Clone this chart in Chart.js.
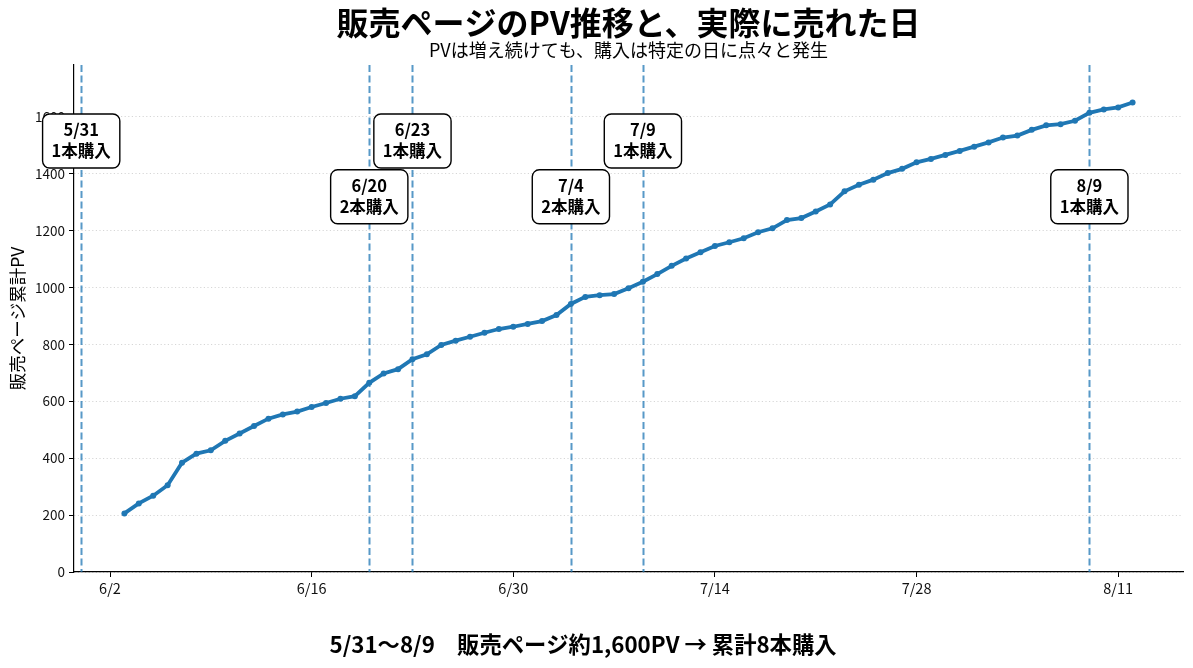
<!DOCTYPE html>
<html lang="ja">
<head>
<meta charset="utf-8">
<title>販売ページのPV推移と、実際に売れた日</title>
<script src="https://cdn.jsdelivr.net/npm/chart.js@4.4.1/dist/chart.umd.min.js"></script>
<style>
  html, body { margin: 0; padding: 0; background: #fff; }
  #wrap { width: 1193px; height: 668px; position: relative; }
</style>
</head>
<body>
<div id="wrap"><canvas id="pvChart"></canvas></div>
<script>
// daily cumulative PV of the sales page
const dates = [
    '6/3', '6/4', '6/5', '6/6', '6/7', '6/8', '6/9', '6/10', '6/11', '6/12',
    '6/13', '6/14', '6/15', '6/16', '6/17', '6/18', '6/19', '6/20', '6/21', '6/22',
    '6/23', '6/24', '6/25', '6/26', '6/27', '6/28', '6/29', '6/30', '7/1', '7/2',
    '7/3', '7/4', '7/5', '7/6', '7/7', '7/8', '7/9', '7/10', '7/11', '7/12',
    '7/13', '7/14', '7/15', '7/16', '7/17', '7/18', '7/19', '7/20', '7/21', '7/22',
    '7/23', '7/24', '7/25', '7/26', '7/27', '7/28', '7/29', '7/30', '7/31', '8/1',
    '8/2', '8/3', '8/4', '8/5', '8/6', '8/7', '8/8', '8/9', '8/10', '8/11', '8/12'
];
const cumulativePV = [
    206, 241, 268, 305, 384, 416, 428, 461, 487, 513,
    539, 554, 564, 580, 594, 609, 618, 665, 698, 713,
    748, 765, 798, 813, 827, 841, 854, 862, 872, 882,
    903, 942, 967, 973, 977, 997, 1020, 1047, 1076, 1102,
    1124, 1146, 1159, 1173, 1194, 1208, 1237, 1244, 1267, 1292,
    1338, 1361, 1379, 1402, 1417, 1440, 1452, 1466, 1480, 1495,
    1510, 1527, 1534, 1554, 1570, 1574, 1586, 1614, 1626, 1633, 1650
];

// days on which the product sold
const purchaseDates = ['5/31', '6/20', '6/23', '7/4', '7/9', '8/9'];
const purchaseCounts = [1, 2, 1, 2, 1, 1];

const xTickDates = ['6/2', '6/16', '6/30', '7/14', '7/28', '8/11'];
const yTickValues = [0, 200, 400, 600, 800, 1000, 1200, 1400, 1600];

const FONT = "'Noto Sans CJK JP', 'Noto Sans', sans-serif";
const BLUE = '#1f77b4';

// 'M/D' -> days from 6/2
function dayNum(s) {
    const [m, d] = s.split('/').map(Number);
    return (Date.UTC(2024, m - 1, d) - Date.UTC(2024, 5, 2)) / 86400000;
}

const yMax = Math.max(...cumulativePV) * 1.08;

const textPlugin = {
    id: 'texts',
    afterDraw(chart) {
        const { ctx, chartArea } = chart;
        const cx = (chartArea.left + chartArea.right) / 2;
        ctx.save();
        ctx.fillStyle = '#000';
        ctx.textAlign = 'center';
        ctx.textBaseline = 'middle';
        ctx.font = 'bold 32px ' + FONT;
        ctx.fillText('販売ページのPV推移と、実際に売れた日', cx, 23);
        ctx.font = '18px ' + FONT;
        ctx.fillText('PVは増え続けても、購入は特定の日に点々と発生', cx, 50);
        ctx.font = 'bold 22.3px ' + FONT;
        ctx.fillText('5/31〜8/9　販売ページ約1,600PV → 累計8本購入', 583, 645);
        ctx.restore();
    }
};

const purchasePlugin = {
    id: 'purchases',
    beforeDatasetsDraw(chart) {
        const { ctx, chartArea, scales } = chart;
        ctx.save();
        ctx.strokeStyle = 'rgba(31,119,180,0.75)';
        ctx.lineWidth = 2;
        ctx.setLineDash([7, 3.5]);
        purchaseDates.forEach(d => {
            const x = Math.round(scales.x.getPixelForValue(dayNum(d))) + 0.5;
            ctx.beginPath();
            ctx.moveTo(x, chartArea.top);
            ctx.lineTo(x, chartArea.bottom);
            ctx.stroke();
        });
        ctx.restore();
    },
    afterDraw(chart) {
        const { ctx, scales } = chart;
        ctx.save();
        ctx.font = 'bold 16.5px ' + FONT;
        ctx.textAlign = 'center';
        ctx.textBaseline = 'middle';
        purchaseDates.forEach((d, i) => {
            const x = scales.x.getPixelForValue(dayNum(d));
            const y = scales.y.getPixelForValue(yMax * (i % 2 === 0 ? 0.85 : 0.74));
            const lines = [d, purchaseCounts[i] + '本購入'];
            const w = Math.max(...lines.map(t => ctx.measureText(t).width)) + 18;
            const h = 54;
            ctx.beginPath();
            ctx.roundRect(x - w / 2, y - h / 2, w, h, 7);
            ctx.fillStyle = '#fff';
            ctx.fill();
            ctx.lineWidth = 1.4;
            ctx.strokeStyle = '#000';
            ctx.stroke();
            ctx.fillStyle = '#000';
            ctx.fillText(lines[0], x, y - 11);
            ctx.fillText(lines[1], x, y + 10);
        });
        ctx.restore();
    }
};

function createPVChart() {
    const ctx = document.getElementById('pvChart').getContext('2d');

    new Chart(ctx, {
        type: 'line',
        data: {
            datasets: [{
                label: '累計PV',
                data: dates.map((d, i) => ({ x: dayNum(d), y: cumulativePV[i] })),
                borderColor: BLUE,
                backgroundColor: BLUE,
                borderWidth: 3.8,
                pointRadius: 3,
                pointBorderWidth: 0,
                pointBackgroundColor: BLUE,
                tension: 0
            }]
        },
        options: {
            responsive: true,
            maintainAspectRatio: false,
            animation: false,
            layout: {
                padding: { top: 65, right: 10, bottom: 0, left: 0 }
            },
            plugins: {
                legend: { display: false },
                tooltip: { enabled: false },
                title: { display: false }
            },
            scales: {
                x: {
                    type: 'linear',
                    min: dayNum(purchaseDates[0]) - 0.5,
                    max: dayNum(dates[dates.length - 1]) + 3.5,
                    afterBuildTicks: axis => {
                        axis.ticks = xTickDates.map(d => ({ value: dayNum(d) }));
                    },
                    afterFit: scale => { scale.height = 96; },
                    ticks: {
                        callback: (value, index) => xTickDates[index],
                        color: '#111',
                        font: { family: FONT, size: 14.5 },
                        padding: 3,
                        maxRotation: 0
                    },
                    grid: {
                        display: true,
                        drawOnChartArea: false,
                        drawTicks: true,
                        tickLength: 5,
                        tickColor: '#000',
                        tickWidth: 1
                    },
                    border: { display: true, color: '#000', width: 1.2 }
                },
                y: {
                    min: 0,
                    max: yMax,
                    afterBuildTicks: axis => {
                        axis.ticks = yTickValues.map(v => ({ value: v }));
                    },
                    afterFit: scale => { scale.width = 74; },
                    title: {
                        display: true,
                        text: '販売ページ累計PV',
                        color: '#000',
                        font: { family: FONT, size: 17.5 },
                        padding: { top: 7, bottom: 0 }
                    },
                    ticks: {
                        callback: value => String(value),
                        color: '#111',
                        font: { family: FONT, size: 13.5 },
                        padding: 4
                    },
                    grid: {
                        color: 'rgba(0,0,0,0.18)',
                        lineWidth: 0.9,
                        tickColor: '#000',
                        tickLength: 5,
                        tickWidth: 1
                    },
                    border: { display: true, color: '#000', width: 1.2, dash: [1.2, 2.4] }
                }
            }
        },
        plugins: [purchasePlugin, textPlugin]
    });
}

document.addEventListener('DOMContentLoaded', () => {
    createPVChart();
});
</script>
</body>
</html>
